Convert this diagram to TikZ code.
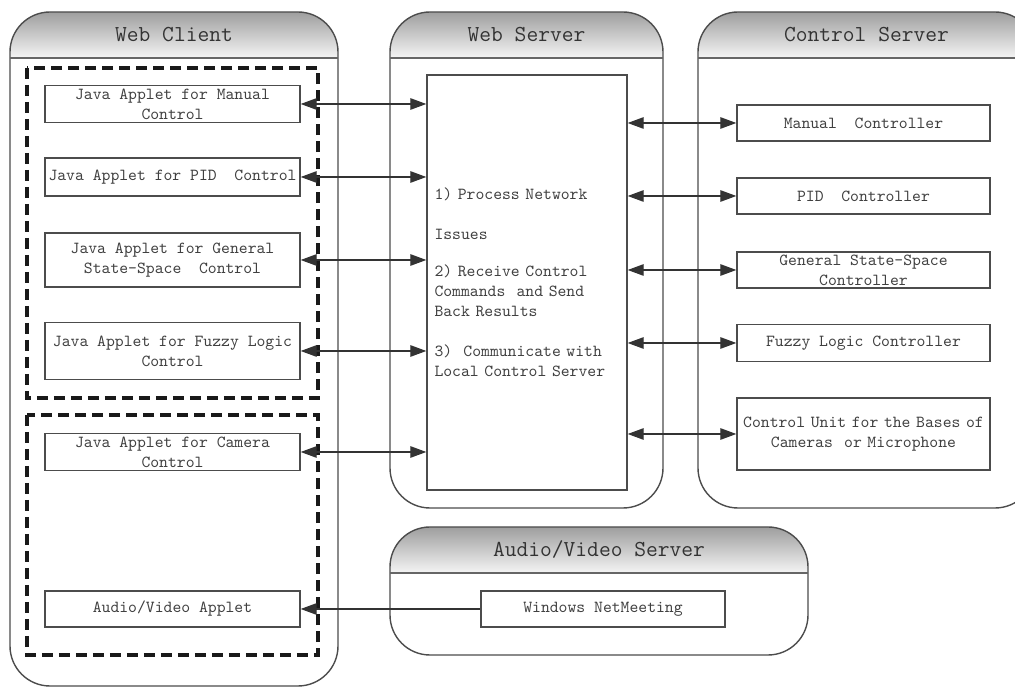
\documentclass[tikz,border=0pt]{standalone}
\usepackage{fontspec}
\usetikzlibrary{arrows.meta,positioning,calc}

\tikzset{
  panel/.style={draw=black!70, line width=0.8pt, rounded corners=0.8cm},
  paneltitle/.style={font=\ttfamily\fontsize{13}{15}\selectfont, text=black!80},
  block/.style={draw=black!70, line width=0.8pt, minimum width=5.1cm, minimum height=0.74cm,
    inner sep=1pt, align=center, font=\ttfamily\fontsize{9.6}{11.4}\selectfont, text=black!75},
  group/.style={draw=black!90, line width=1.8pt, dash pattern=on 2.2mm off 1.2mm},
  link/.style={draw=black!80, line width=0.7pt, >={Triangle[length=3.2mm,width=2.3mm]}, <->},
}

% rounded server panel with shaded header: name, x1, y1, x2, y2, divider, title
\newcommand{\serverpanel}[7]{%
  \begin{scope}
    \clip[rounded corners=0.8cm] (#2,#3) rectangle (#4,#5);
    \shade[top color=black!38, bottom color=black!4] (#2,#3) rectangle (#4,#6);
  \end{scope}
  \draw[panel] (#2,#3) rectangle (#4,#5);
  \draw[black!60, line width=1.2pt] (#2,#6) -- (#4,#6);
  \node[paneltitle] (#1) at ({(#2+#4)/2},{(#3+#6)/2}) {#7};
}

\begin{document}
\begin{tikzpicture}[x=0.02cm, y=-0.02cm]
  \useasboundingbox (0,0) rectangle (1015,688);

  % panels
  \serverpanel{webclient}{10}{12}{338}{686}{58}{Web Client}
  \serverpanel{webserver}{390}{12}{663}{508}{58}{Web Server}
  \serverpanel{controlserver}{698}{12}{1035}{508}{58}{Control Server}
  \serverpanel{avserver}{390}{527}{808}{655}{573}{Audio/Video Server}

  % applet groups
  \draw[group] (27,68) rectangle (318,398);
  \draw[group] (27,415) rectangle (318,655);

  % web client applets
  \node[block] (jmanual) at (172.5,104) {Java Applet for Manual\\Control};
  \node[block, minimum height=0.76cm] (jpid) at (172.5,177) {Java Applet for PID~ Control};
  \node[block, minimum height=1.08cm] (jgeneral) at (172.5,260) {Java Applet for General\\State-Space~ Control};
  \node[block, minimum height=1.14cm] (jfuzzy) at (172.5,351) {Java Applet for Fuzzy Logic\\Control};
  \node[block] (jcamera) at (172.5,452) {Java Applet for Camera\\Control};
  \node[block, minimum height=0.72cm] (javapplet) at (172.5,609) {Audio/Video Applet};

  % web server
  \node[block, minimum width=4cm, minimum height=8.3cm, text width=3.7cm, align=left] (proc) at (527,282.5)
    {1) Process Network\\[0.4cm]
     Issues\\[0.34cm]
     2) Receive Control\\
     Commands~ and Send\\
     Back Results\\[0.4cm]
     3)~ Communicate with\\
     Local Control Server};

  % control server
  \node[block, minimum width=5.06cm, minimum height=0.72cm] (cmanual) at (863.5,123) {Manual~ Controller};
  \node[block, minimum width=5.06cm, minimum height=0.72cm] (cpid) at (863.5,196) {PID~ Controller};
  \node[block, minimum width=5.06cm, minimum height=0.72cm] (cgeneral) at (863.5,270) {General State-Space\\Controller};
  \node[block, minimum width=5.06cm, minimum height=0.74cm] (cfuzzy) at (863.5,343) {Fuzzy Logic Controller};
  \node[block, minimum width=5.06cm, minimum height=1.44cm, text width=4.9cm] (cunit) at (863.5,434)
    {Control Unit for the Bases of\\Cameras~ or Microphone};

  % audio/video server
  \node[block, minimum width=4.88cm, minimum height=0.72cm] (netmeeting) at (603,609) {Windows NetMeeting};

  % connectors
  \foreach \n in {jmanual,jpid,jgeneral,jfuzzy,jcamera}
    \draw[link] (\n.east) -- (\n.east -| proc.west);
  \foreach \n in {cmanual,cpid,cgeneral,cfuzzy,cunit}
    \draw[link] (\n.west -| proc.east) -- (\n.west);
  \draw[link, <-] (javapplet.east) -- (netmeeting.west);
\end{tikzpicture}
\end{document}
